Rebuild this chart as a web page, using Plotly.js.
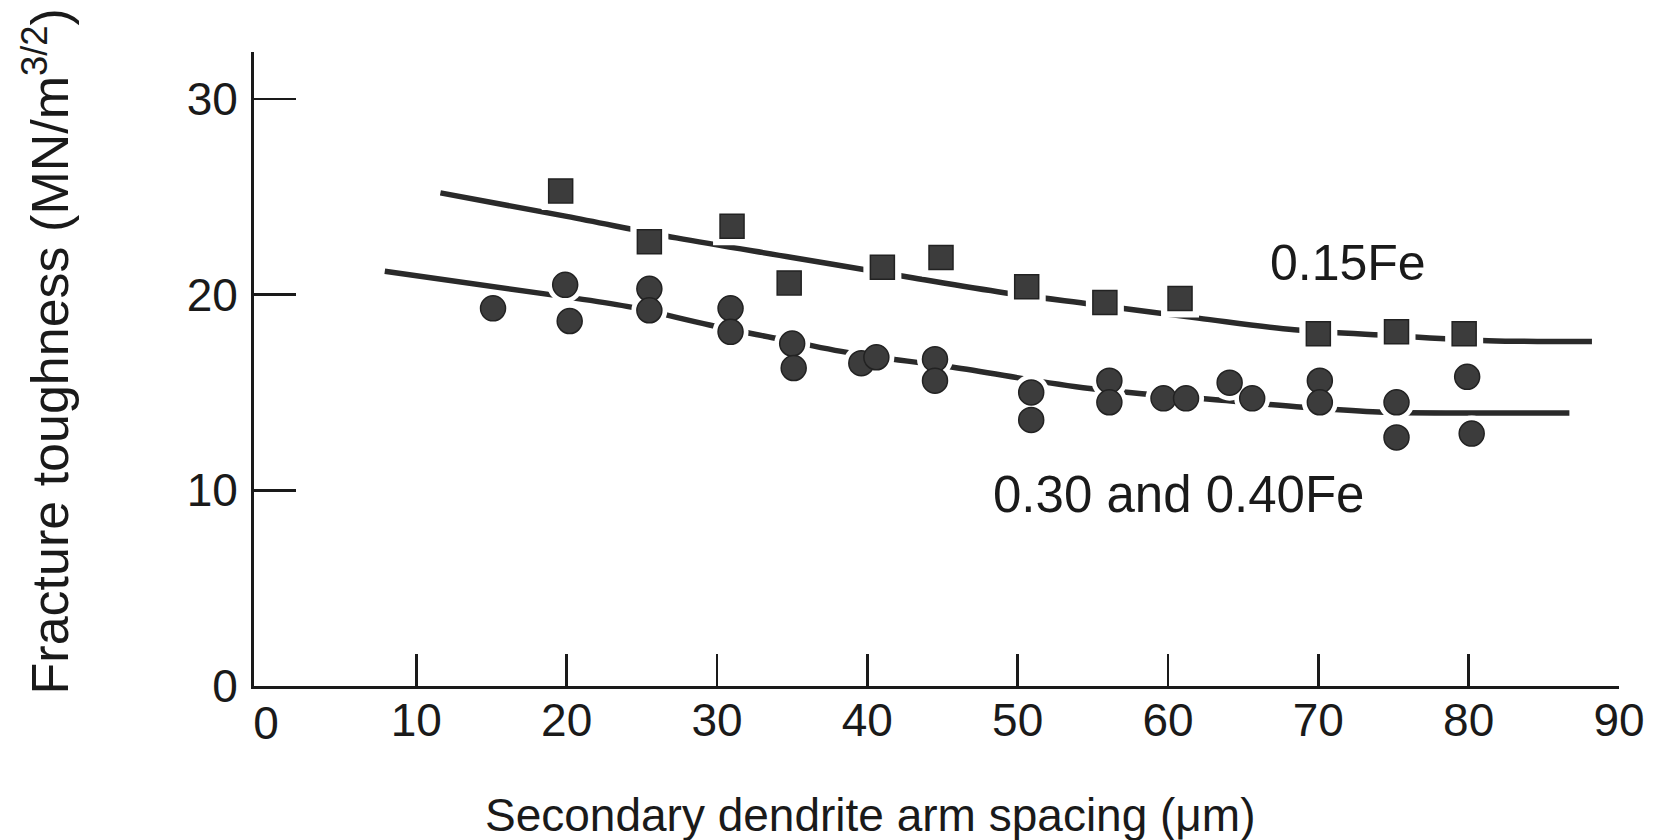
<!DOCTYPE html>
<html>
<head>
<meta charset="utf-8">
<script src="https://cdn.plot.ly/plotly-3.0.1.min.js"></script>
<style>
  html, body { margin: 0; padding: 0; background: #ffffff; }
  #chart { width: 1659px; height: 840px; }
</style>
</head>
<body>
<div id="chart"></div>
<script>
// ---- Data ----
// 0.15Fe (squares)
const fe015_x = [19.6, 25.5, 31.0, 34.8, 41.0, 44.9, 50.6, 55.8, 60.8, 70.0, 75.2, 79.7];
const fe015_y = [25.3, 22.7, 23.5, 20.6, 21.4, 21.9, 20.4, 19.6, 19.8, 18.0, 18.1, 18.0];

// 0.30 and 0.40Fe (circles)
const fe030_x = [15.1, 19.9, 20.2, 25.5, 25.5, 30.9, 30.9, 35.0, 35.1, 39.6, 40.6, 44.5, 44.5,
                 50.9, 50.9, 56.1, 56.1, 59.7, 61.2, 64.1, 65.6, 70.1, 70.1, 75.2, 75.2, 79.9, 80.2];
const fe030_y = [19.3, 20.5, 18.65, 20.3, 19.2, 19.3, 18.1, 17.5, 16.25, 16.5, 16.8, 16.7, 15.6,
                 15.0, 13.6, 15.6, 14.5, 14.7, 14.7, 15.5, 14.7, 15.6, 14.5, 14.5, 12.7, 15.8, 12.9];

// Fitted trend curves
const fit015_x = [11.6, 20.0, 27.3, 35.0, 42.7, 49.1, 55.0, 62.0, 68.4, 75.0, 81.3, 88.2];
const fit015_y = [25.2, 24.0, 22.9, 21.9, 20.9, 20.1, 19.5, 18.8, 18.2, 17.9, 17.65, 17.6];

const fit030_x = [7.9, 18.9, 24.0, 29.5, 33.7, 39.0, 45.6, 54.8, 63.6, 69.0, 74.0, 80.0, 86.7];
const fit030_y = [21.2, 20.0, 19.4, 18.45, 17.8, 17.0, 16.3, 15.2, 14.6, 14.25, 14.0, 13.95, 13.95];

const xTicks = [10, 20, 30, 40, 50, 60, 70, 80, 90];
const xOrigin = [0];
const yTicks = [0, 10, 20, 30];

const seriesLabels = ["0.15Fe", "0.30 and 0.40Fe"];
const xTitle = "Secondary dendrite arm spacing (\u03bcm)";
const yTitle = "Fracture toughness (MN/m<sup>3/2</sup>)";

// ---- Styling ----
const ink = "#1a1a1a";
const markFill = "#3c3c3c";
const FONT = "Liberation Sans, Arial, Helvetica, sans-serif";
const XR = [-0.8, 90];

const traces = [
  { x: fit015_x, y: fit015_y, mode: "lines", type: "scatter", name: seriesLabels[0] + " fit",
    line: { color: "#2a2a2a", width: 5.5, shape: "spline", smoothing: 1 }, hoverinfo: "skip" },
  { x: fit030_x, y: fit030_y, mode: "lines", type: "scatter", name: seriesLabels[1] + " fit",
    line: { color: "#2a2a2a", width: 5.5, shape: "spline", smoothing: 1 }, hoverinfo: "skip" },
  // white halos that break the curves around each marker (drawn on the overlay layer)
  { x: fe015_x, y: fe015_y, mode: "markers", type: "scatter", hoverinfo: "skip", xaxis: "x2",
    marker: { symbol: "square", size: 38, color: "#ffffff" } },
  { x: fe030_x, y: fe030_y, mode: "markers", type: "scatter", hoverinfo: "skip", xaxis: "x2",
    marker: { symbol: "circle", size: 36, color: "#ffffff" } },
  { x: fe015_x, y: fe015_y, mode: "markers", type: "scatter", name: seriesLabels[0], xaxis: "x2",
    marker: { symbol: "square", size: 24, color: markFill, line: { color: "#222", width: 1.5 } } },
  { x: fe030_x, y: fe030_y, mode: "markers", type: "scatter", name: seriesLabels[1], xaxis: "x2",
    marker: { symbol: "circle", size: 25, color: markFill, line: { color: "#222", width: 1.5 } } }
];

const tickFont = { family: FONT, size: 46, color: ink };

const layout = {
  width: 1659, height: 840,
  paper_bgcolor: "#ffffff", plot_bgcolor: "#ffffff",
  showlegend: false,
  margin: { l: 254, r: 40, t: 52, b: 154 },
  font: { family: FONT, color: ink, size: 46 },
  xaxis: {
    range: XR, tickvals: xTicks, ticktext: xTicks.map(String),
    ticks: "inside", ticklen: 32, tickwidth: 2.5, tickcolor: ink,
    showline: true, linecolor: ink, linewidth: 3, showgrid: false, zeroline: false,
    tickfont: tickFont, ticklabelstandoff: -8
  },
  xaxis2: {
    overlaying: "x", anchor: "y", side: "bottom", range: XR,
    tickvals: xOrigin, ticktext: xOrigin.map(String), ticks: "",
    showline: false, showgrid: false, zeroline: false,
    tickfont: tickFont, ticklabelstandoff: 6
  },
  yaxis: {
    range: [0, 32.4], tickvals: yTicks, ticktext: yTicks.map(String),
    ticks: "inside", ticklen: 42, tickwidth: 2.5, tickcolor: ink,
    showline: true, linecolor: ink, linewidth: 3, showgrid: false, zeroline: false,
    tickfont: tickFont, ticklabelstandoff: 4
  },
  annotations: [
    { text: seriesLabels[0], x: 72.0, y: 21.6, xref: "x", yref: "y", showarrow: false,
      xanchor: "center", yanchor: "middle", font: { family: FONT, size: 50, color: ink } },
    { text: seriesLabels[1], x: 60.7, y: 9.8, xref: "x", yref: "y", showarrow: false,
      xanchor: "center", yanchor: "middle", font: { family: FONT, size: 51, color: ink } },
    { text: xTitle, x: 0.452, y: -0.203, xref: "paper", yref: "paper", showarrow: false,
      xanchor: "center", yanchor: "middle", font: { family: FONT, size: 46, color: ink } },
    { text: yTitle, x: -0.152, y: 0.527, xref: "paper", yref: "paper", showarrow: false,
      textangle: -90, xanchor: "center", yanchor: "middle", font: { family: FONT, size: 52, color: ink } }
  ]
};

Plotly.newPlot("chart", traces, layout, { staticPlot: true, displayModeBar: false });
</script>
</body>
</html>
